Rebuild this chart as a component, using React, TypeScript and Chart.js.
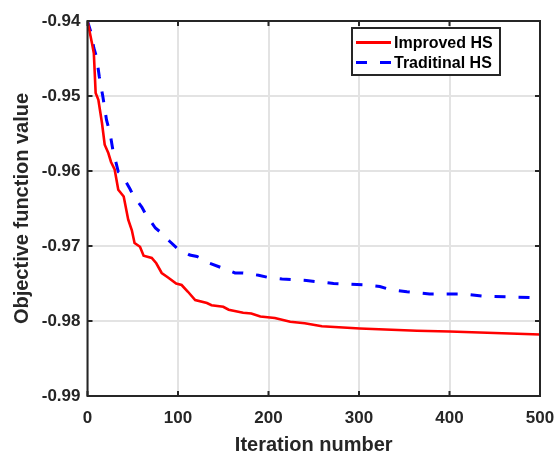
import React, { useEffect, useRef } from "react";
import { Chart, registerables } from "chart.js";

Chart.register(...registerables);

const improvedIter = [0, 2, 5, 7, 9, 12, 16, 19, 23, 26, 30, 34, 40, 45, 49, 52, 58, 62, 71, 76, 82, 89, 98, 104, 111, 119, 132, 137, 150, 156, 172, 181, 191, 207, 224, 240, 259, 301, 364, 400, 500];
const improvedVal = [-0.94, -0.9412, -0.943, -0.9443, -0.9496, -0.9505, -0.9536, -0.9565, -0.9576, -0.9588, -0.9598, -0.9625, -0.9634, -0.9665, -0.9679, -0.9696, -0.9701, -0.9713, -0.9716, -0.9723, -0.9736, -0.9742, -0.975, -0.9752, -0.9761, -0.9772, -0.9776, -0.9779, -0.9781, -0.9785, -0.9789, -0.979, -0.9794, -0.9796, -0.9801, -0.9803, -0.9807, -0.981, -0.9813, -0.9814, -0.9818];

const traditionalIter = [0, 4, 7, 10, 13, 17, 21, 25, 28, 34, 38, 47, 51, 60, 65, 75, 80, 91, 99, 113, 121, 135, 146, 163, 172, 189, 200, 215, 242, 272, 308, 323, 334, 353, 378, 415, 437, 470, 500];
const traditionalVal = [-0.94, -0.9416, -0.9436, -0.9448, -0.9474, -0.9501, -0.9532, -0.955, -0.9572, -0.9601, -0.9605, -0.9624, -0.9634, -0.9648, -0.9659, -0.9676, -0.9681, -0.9694, -0.9703, -0.9712, -0.9714, -0.9723, -0.9728, -0.9736, -0.9736, -0.9739, -0.9742, -0.9744, -0.9746, -0.975, -0.9752, -0.9754, -0.9758, -0.9761, -0.9764, -0.9764, -0.9767, -0.9768, -0.9769];

const xTickValues = [0, 100, 200, 300, 400, 500];
const yTickValues = [-0.99, -0.98, -0.97, -0.96, -0.95, -0.94];

const seriesNames = ["Improved HS", "Traditinal HS"];
const xTitle = "Iteration number";
const yTitle = "Objective function value";

const TEXT = "#262626";
const FONT = "'Liberation Sans', Arial, Helvetica, sans-serif";

const boxPlugin = {
  id: "matlabBox",
  afterDatasetsDraw(chart: any) {
    const { ctx, chartArea: a, scales } = chart;
    ctx.save();
    ctx.strokeStyle = TEXT;
    ctx.lineWidth = 2;
    ctx.strokeRect(a.left, a.top, a.right - a.left, a.bottom - a.top);
    const tl = 5;
    ctx.beginPath();
    for (const v of xTickValues) {
      const px = scales.x.getPixelForValue(v);
      ctx.moveTo(px, a.bottom);
      ctx.lineTo(px, a.bottom - tl);
      ctx.moveTo(px, a.top);
      ctx.lineTo(px, a.top + tl);
    }
    for (const v of yTickValues) {
      const py = scales.y.getPixelForValue(v);
      ctx.moveTo(a.left, py);
      ctx.lineTo(a.left + tl, py);
      ctx.moveTo(a.right, py);
      ctx.lineTo(a.right - tl, py);
    }
    ctx.stroke();

    // legend
    const lx = 352, ly = 28, lw = 148, lh = 47;
    ctx.fillStyle = "#ffffff";
    ctx.fillRect(lx, ly, lw, lh);
    ctx.strokeStyle = TEXT;
    ctx.lineWidth = 2;
    ctx.strokeRect(lx, ly, lw, lh);
    const rows = [ly + 14.5, ly + 34.5];
    const colors = ["#ff0000", "#0000ff"];
    const dashes = [[], [11, 13]];
    chart.data.datasets.forEach((ds: any, i: number) => {
      ctx.beginPath();
      ctx.setLineDash(dashes[i]);
      ctx.strokeStyle = colors[i];
      ctx.lineWidth = 3;
      ctx.moveTo(lx + 4, rows[i]);
      ctx.lineTo(lx + 39, rows[i]);
      ctx.stroke();
      ctx.setLineDash([]);
      ctx.fillStyle = "#000000";
      ctx.font = `bold 16px ${FONT}`;
      ctx.textBaseline = "middle";
      ctx.textAlign = "left";
      ctx.fillText(ds.label, lx + 42, rows[i] + 1);
    });
    ctx.restore();
  },
};

export default function App() {
  const ref = useRef<HTMLCanvasElement>(null);
  useEffect(() => {
    if (!ref.current) return;
    const chart = new Chart(ref.current, {
      type: "line",
      data: {
        datasets: [
          {
            label: seriesNames[0],
            data: improvedIter.map((x, i) => ({ x, y: improvedVal[i] })),
            borderColor: "#ff0000",
            borderWidth: 2.6,
            pointRadius: 0,
            tension: 0,
            fill: false,
          },
          {
            label: seriesNames[1],
            data: traditionalIter.map((x, i) => ({ x, y: traditionalVal[i] })),
            borderColor: "#0000ff",
            borderWidth: 3,
            borderDash: [11, 13],
            pointRadius: 0,
            tension: 0,
            fill: false,
          },
        ],
      },
      options: {
        animation: false,
        responsive: false,
        devicePixelRatio: 1,
        layout: { padding: { left: 0, right: 15, top: 21, bottom: 0 } },
        plugins: { legend: { display: false }, tooltip: { enabled: false } },
        scales: {
          x: {
            type: "linear",
            min: 0,
            max: 500,
            afterBuildTicks: (s: any) => {
              s.ticks = xTickValues.map((v) => ({ value: v }));
            },
            afterFit: (s: any) => {
              s.height = 56;
              s.paddingLeft = 0;
              s.paddingRight = 0;
            },
            grid: { color: "#e3e3e3", lineWidth: 2, drawTicks: false },
            border: { display: false },
            ticks: {
              padding: 12,
              color: TEXT,
              font: { family: FONT, size: 17, weight: "bold" },
              maxRotation: 0,
              callback: (v: any) => String(v),
            },
            title: {
              display: true,
              text: xTitle,
              color: TEXT,
              font: { family: FONT, size: 20, weight: "bold" },
              padding: { top: -5, bottom: -5 },
            },
          },
          y: {
            type: "linear",
            min: -0.99,
            max: -0.94,
            afterBuildTicks: (s: any) => {
              s.ticks = yTickValues.map((v) => ({ value: v }));
            },
            afterFit: (s: any) => {
              s.width = 87.5;
              s.paddingTop = 0;
              s.paddingBottom = 0;
            },
            grid: { color: "#e3e3e3", lineWidth: 2, drawTicks: false },
            border: { display: false },
            ticks: {
              padding: 7,
              color: TEXT,
              font: { family: FONT, size: 17, weight: "bold" },
              callback: (v: any) => Number(v).toFixed(2),
            },
            title: {
              display: true,
              text: yTitle,
              color: TEXT,
              font: { family: FONT, size: 20, weight: "bold" },
              padding: { top: 10, bottom: 10 },
            },
          },
        },
      },
      plugins: [boxPlugin],
    });
    return () => chart.destroy();
  }, []);
  return (
    <div style={{ position: "absolute", left: 0, top: 0, width: 555, height: 452, background: "#fff" }}>
      <canvas ref={ref} width={555} height={452} />
    </div>
  );
}
